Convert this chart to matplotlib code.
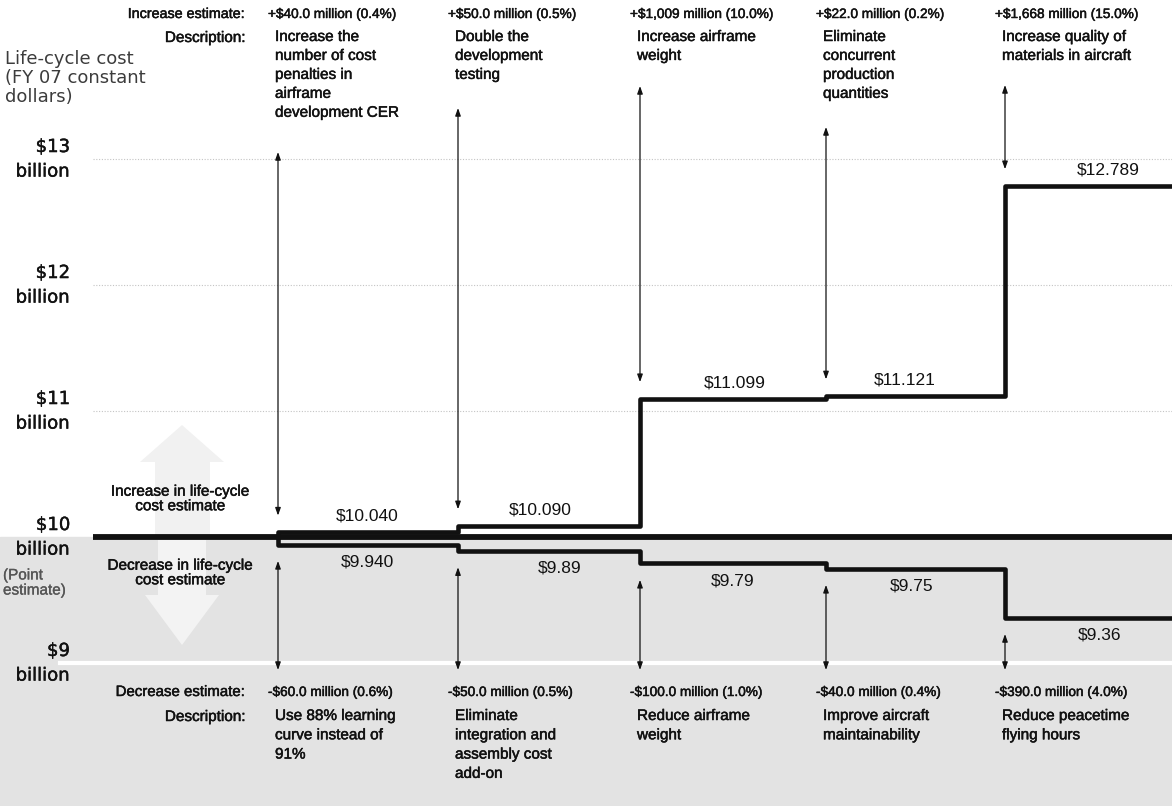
import numpy as np
import matplotlib.pyplot as plt
import matplotlib.patheffects as pe
from matplotlib.patches import Polygon, Rectangle

# Life-cycle cost sensitivity steps (billions of FY07 dollars)
point_estimate = 10.0

inc_estimates = ["+$40.0 million (0.4%)", "+$50.0 million (0.5%)", "+$1,009 million (10.0%)",
                 "+$22.0 million (0.2%)", "+$1,668 million (15.0%)"]
inc_descriptions = ["Increase the\nnumber of cost\npenalties in\nairframe\ndevelopment CER",
                    "Double the\ndevelopment\ntesting",
                    "Increase airframe\nweight",
                    "Eliminate\nconcurrent\nproduction\nquantities",
                    "Increase quality of\nmaterials in aircraft"]
inc_levels = [10.040, 10.090, 11.099, 11.121, 12.789]
inc_level_labels = ["$10.040", "$10.090", "$11.099", "$11.121", "$12.789"]

dec_estimates = ["-$60.0 million (0.6%)", "-$50.0 million (0.5%)", "-$100.0 million (1.0%)",
                 "-$40.0 million (0.4%)", "-$390.0 million (4.0%)"]
dec_descriptions = ["Use 88% learning\ncurve instead of\n91%",
                    "Eliminate\nintegration and\nassembly cost\nadd-on",
                    "Reduce airframe\nweight",
                    "Improve aircraft\nmaintainability",
                    "Reduce peacetime\nflying hours"]
dec_levels = [9.940, 9.89, 9.79, 9.75, 9.36]
dec_level_labels = ["$9.940", "$9.89", "$9.79", "$9.75", "$9.36"]

y_ticks = [13, 12, 11, 10, 9]

# layout (x in pixels across the figure)
W, H = 1172, 806
step_x = [278, 458, 640, 826, 1005]
x_start = 93
inc_label_x = [367, 540, 735, 905, 1108]
dec_label_x = [367, 560, 733, 912, 1100]
inc_arrow_top = [152, 108, 86, 127, 85]
dec_arrow_bottom = 670

PX_PER_B = 126.0
ZERO_ROW = 537.0


def py(row):
    """pixel row -> value in billions"""
    return point_estimate + (ZERO_ROW - row) / PX_PER_B


sans = ["Liberation Sans", "DejaVu Sans"]
ink = "#111111"


def label(x, y, s, size, stroke=0.35, **kw):
    kw.setdefault("color", ink)
    kw.setdefault("family", sans)
    t = ax.text(x, y, s, fontsize=size, **kw)
    t.set_path_effects([pe.withStroke(linewidth=stroke, foreground=kw["color"])])
    return t


fig = plt.figure(figsize=(W / 100, H / 100), dpi=100)
ax = fig.add_axes([0, 0, 1, 1])
ax.set_xlim(0, W)
ax.set_ylim(py(H), py(0))
ax.axis("off")

# backgrounds: white above the point estimate, grey below
ax.add_patch(Rectangle((0, py(H)), W, point_estimate - py(H), color="#e3e3e3", zorder=0))
up_arrow = [(155, py(537)), (155, py(462)), (140, py(462)), (182, py(425)),
            (224, py(462)), (210, py(462)), (210, py(537))]
ax.add_patch(Polygon(up_arrow, closed=True, color="#f1f1f1", lw=0, zorder=0.5))
down_arrow = [(158, py(540)), (158, py(595)), (145, py(595)), (182, py(645)),
              (219, py(595)), (206, py(595)), (206, py(540))]
ax.add_patch(Polygon(down_arrow, closed=True, color="#f3f3f3", lw=0, zorder=0.5))

# grid lines
for v in y_ticks:
    if v == 9:
        ax.plot([60, W], [v, v], color="white", lw=3, zorder=1)
    elif v != 10:
        ax.plot([x_start, W], [v, v], color="#c4c4c4", lw=0.8, ls=(0, (1, 1.5)), zorder=1)

# point estimate line
ax.plot([x_start, W], [point_estimate, point_estimate], color=ink, lw=4.2,
        solid_capstyle="butt", zorder=3)

# step paths
xs = [step_x[0]] + step_x + [W]
ax.plot(xs, [point_estimate] + inc_levels + [inc_levels[-1]], drawstyle="steps-post",
        color=ink, lw=3.3, zorder=3)
ax.plot(xs, [point_estimate] + dec_levels + [dec_levels[-1]], drawstyle="steps-post",
        color=ink, lw=3.3, zorder=3)

# level labels
for x, v, t in zip(inc_label_x, inc_levels, inc_level_labels):
    ax.annotate(t, (x, v), xytext=(0, 6), textcoords="offset points", ha="center",
                va="bottom", fontsize=12.5, family=sans, color=ink)
for x, v, t in zip(dec_label_x, dec_levels, dec_level_labels):
    ax.annotate(t, (x, v), xytext=(0, -7), textcoords="offset points", ha="center",
                va="top", fontsize=12.5, family=sans, color=ink)

# double-headed arrows
astyle = dict(arrowstyle="<|-|>,head_length=0.45,head_width=0.16", color=ink,
              lw=0.9, shrinkA=0, shrinkB=0, mutation_scale=10)
for x, v, top in zip(step_x, inc_levels, inc_arrow_top):
    ax.annotate("", xy=(x, py(top)), xytext=(x, v + 0.13), arrowprops=astyle, zorder=4)
for x, v in zip(step_x, dec_levels):
    ax.annotate("", xy=(x, py(dec_arrow_bottom)), xytext=(x, v - 0.13), arrowprops=astyle, zorder=4)

# column text
for x, est, desc in zip(step_x, inc_estimates, inc_descriptions):
    label(x - 10, py(14), est, 9.8, ha="left", va="center")
    label(x - 3, py(30), desc, 11, ha="left", va="top", linespacing=1.45)
for x, est, desc in zip(step_x, dec_estimates, dec_descriptions):
    label(x - 10, py(692), est, 9.8, ha="left", va="center")
    label(x - 3, py(709), desc, 11, ha="left", va="top", linespacing=1.48)

label(245, py(14), "Increase estimate:", 10.3, ha="right", va="center")
label(245, py(38), "Description:", 11, ha="right", va="center")
label(245, py(692), "Decrease estimate:", 10.8, ha="right", va="center")
label(245, py(717), "Description:", 11, ha="right", va="center")

label(180, py(499), "Increase in life-cycle\ncost estimate", 11, ha="center", va="center",
      linespacing=1.05)
label(180, py(573), "Decrease in life-cycle\ncost estimate", 11, ha="center", va="center",
      linespacing=1.05)

# y axis captions
ax.text(5, py(78), "Life-cycle cost\n(FY 07 constant\ndollars)", ha="left", va="center",
        fontsize=13, family="DejaVu Sans", color="#3c3c3c", linespacing=1.1)
for v in y_ticks:
    label(70, v + 0.095, f"${v}", 13, stroke=0.3, ha="right", va="center", family="DejaVu Sans")
    label(70, v - 0.1, "billion", 13, stroke=0.3, ha="right", va="center", family="DejaVu Sans")
label(3, py(583), "(Point\nestimate)", 11, stroke=0.2, ha="left", va="center", color="#555555",
      linespacing=1.1)

fig.savefig("out.png", dpi=100)
